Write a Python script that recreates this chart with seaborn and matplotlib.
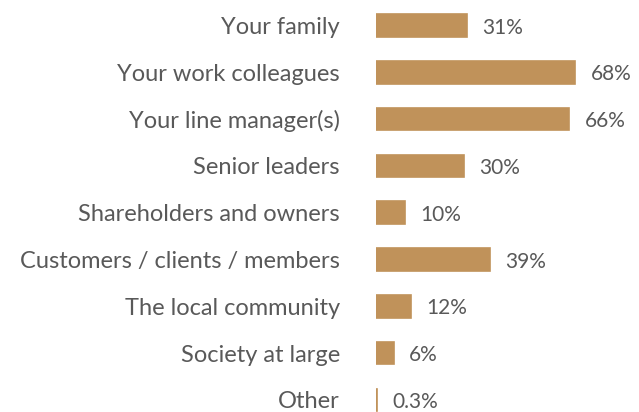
import matplotlib
matplotlib.use("Agg")
import matplotlib.pyplot as plt
import seaborn as sns
import pandas as pd

categories = ["Your family", "Your work colleagues", "Your line manager(s)", "Senior leaders",
              "Shareholders and owners", "Customers / clients / members", "The local community",
              "Society at large", "Other"]
values = [31, 68, 66, 30, 10, 39, 12, 6, 0.3]
value_labels = ["31%", "68%", "66%", "30%", "10%", "39%", "12%", "6%", "0.3%"]

sns.set_theme(style="white")
plt.rcParams['font.family'] = ['Lato', 'DejaVu Sans']

df = pd.DataFrame({"cat": categories, "val": values})

W, H = 639, 412
fig = plt.figure(figsize=(W / 100, H / 100), dpi=100)
left_px = 376
px_per_unit = 2.93
xmax = (W - left_px) / px_per_unit
ax = fig.add_axes([left_px / W, 0, 1 - left_px / W, 1])

bar_color = "#C0925A"
sns.barplot(data=df, y="cat", x="val", orient="h", color=bar_color, width=0.48,
            saturation=1, edgecolor=bar_color, linewidth=1.2, ax=ax)

spacing = 46.8
c0 = 25.5
ax.set_ylim((H - c0) / spacing, -c0 / spacing)
ax.set_xlim(0, xmax)

for i, (v, lab) in enumerate(zip(values, value_labels)):
    ax.annotate(lab, xy=(v, i), xytext=(11, -1.5), textcoords="offset points",
                va="center", ha="left", fontsize=15, color="#595959")

ax.set_xlabel("")
ax.set_ylabel("")
ax.set_xticks([])
ax.tick_params(axis="y", length=0, pad=26, labelsize=17, labelcolor="#595959")
for s in ax.spines.values():
    s.set_visible(False)

fig.savefig("out.png", dpi=100)
